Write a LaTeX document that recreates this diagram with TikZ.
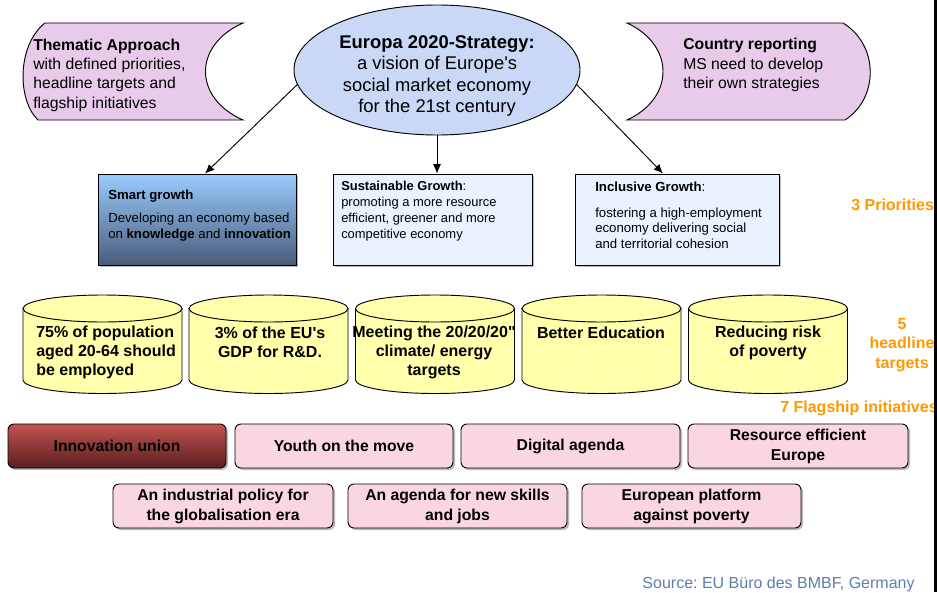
\documentclass[tikz,border=0pt]{standalone}
\usepackage{fontspec}
\setmainfont{Liberation Sans}[Ligatures=TeXOff]
\frenchspacing
\usetikzlibrary{arrows.meta,shapes.geometric,shadows,calc}
\definecolor{bannerc}{RGB}{232,202,234}
\definecolor{ellc}{RGB}{200,216,246}
\definecolor{boxc}{RGB}{234,242,255}
\definecolor{cylc}{RGB}{255,255,172}
\definecolor{flagc}{RGB}{250,214,228}
\definecolor{orangec}{RGB}{255,153,0}
\definecolor{srcc}{RGB}{95,125,175}
\tikzset{
  outline/.style={draw=black,line width=0.7pt},
  banner/.style={outline,fill=bannerc},
  cyl/.style={outline,fill=cylc},
  shad/.style={drop shadow={shadow xshift=1.5pt,shadow yshift=-1.5pt,fill=black!45,opacity=0.6}},
  prio/.style={outline,shad,minimum height=68.25pt,inner sep=0pt},
  flag/.style={outline,shad,rounded corners=4.5pt,fill=flagc,minimum height=33pt,inner sep=0pt,
    font=\fontsize{11.8}{15}\selectfont\bfseries,align=center},
  conn/.style={draw=black,line width=0.7pt,-{Latex[length=7pt,width=6pt]}},
  txt/.style={inner sep=0pt,align=left,anchor=west},
  orange/.style={inner sep=0pt,text=orangec,font=\fontsize{12}{14.6}\selectfont\bfseries},
  cyltxt/.style={inner sep=0pt,font=\fontsize{12}{14.3}\selectfont\bfseries},
}
\begin{document}
\begin{tikzpicture}[x=0.75pt,y=-0.75pt]
\useasboundingbox (0,0) rectangle (937,592);
\fill[white] (0,0) rectangle (937,592);

% banners
\draw[banner] (45,23) -- (243,23) .. controls (193,45) and (193,98) .. (243,120)
  -- (38,120) .. controls (17,100) and (17,45) .. (45,23) -- cycle;
\node[txt,font=\fontsize{11.8}{14.5}\selectfont] (thematic) at (33,75)
  {\textbf{Thematic Approach}\\with defined priorities,\\headline targets and\\flagship initiatives};
\draw[banner] (627,23) -- (843,23) .. controls (879,45) and (879,98) .. (845,120)
  -- (627,120) .. controls (675,98) and (675,45) .. (627,23) -- cycle;
\node[txt,font=\fontsize{11.8}{14.5}\selectfont] (country) at (683,65)
  {\textbf{Country reporting}\\MS need to develop\\their own strategies};

% central ellipse
\node[ellipse,outline,fill=ellc,minimum width=214.5pt,minimum height=97.5pt,inner sep=0pt] (E) at (437,70) {};
\node[inner sep=0pt,align=center,font=\fontsize{13.8}{16.1}\selectfont] (Etxt) at (437,76)
  {\textbf{Europa 2020-Strategy:}\\a vision of Europe's\\social market economy\\for the 21st century};

% priorities
\node[prio,minimum width=148.5pt,top color={rgb,255:red,153;green,204;blue,255},bottom color={rgb,255:red,74;green,92;blue,122}] (smart) at (197,219.5) {};
\node[prio,minimum width=149.25pt,fill=boxc] (sust) at (432.5,219.5) {};
\node[prio,minimum width=153pt,fill=boxc] (incl) at (677,219.5) {};

\node[txt,font=\fontsize{9.9}{12}\selectfont\bfseries] (smartT) at (108,196) {Smart growth};
\node[txt,font=\fontsize{9.9}{12}\selectfont] (smartB) at (108,227)
  {Developing an economy based\\on \textbf{knowledge} and \textbf{innovation}};
\node[txt,font=\fontsize{9.7}{12}\selectfont] (sustT) at (341,211)
  {\textbf{Sustainable Growth}:\\promoting a more resource\\efficient, greener and more\\competitive economy};
\node[txt,font=\fontsize{9.9}{12}\selectfont] (inclT) at (595,187) {\textbf{Inclusive Growth}:};
\node[txt,font=\fontsize{9.9}{11.6}\selectfont] (inclB) at (595,228)
  {fostering a high-employment\\economy delivering social\\and territorial cohesion};

% arrows
\draw[conn] (E.186) -- ($(smart.north)+(8,0)$);
\draw[conn] (E.south) -- (E.south |- sust.north);
\draw[conn] (E.354) -- ($(incl.north)+(-14,0)$);

% orange labels
\node[orange,anchor=west] (prioL) at (851,205) {3 Priorities};
\node[orange,align=center] (headL) at (902,345) {5\\headline\\targets};
\node[orange,anchor=west] (flagL) at (780,408) {7 Flagship initiatives};

% cylinders
\foreach \c in {102.5,268.5,435,601.5,768}{
  \draw[cyl] (\c-79.5,308.5) -- (\c-79.5,380) arc[start angle=180,end angle=0,x radius=79.5,y radius=13.5]
    -- (\c+79.5,308.5) -- cycle;
  \draw[cyl] (\c,308.5) ellipse[x radius=79.5,y radius=13.5];
}
\node[cyltxt,align=left,anchor=west] (c1) at (36,352) {75\% of population\\aged 20-64 should\\be employed};
\node[cyltxt,align=center] (c2) at (270,342.5) {3\% of the EU's\\GDP for R\&D.};
\node[cyltxt,align=center] (c3) at (434,352) {Meeting the 20/20/20"\\climate/ energy\\targets};
\node[cyltxt,align=center] (c4) at (601,333) {Better Education};
\node[cyltxt,align=center] (c5) at (768,342.5) {Reducing risk\\of poverty};

% flagship initiatives
\node[flag,minimum width=163.5pt,fill=none,top color={rgb,255:red,194;green,84;blue,80},bottom color={rgb,255:red,90;green,30;blue,32}] (f1) at (117,446) {Innovation union};
\node[flag,minimum width=163.5pt] (f2) at (344,446) {Youth on the move};
\node[flag,minimum width=164.25pt] (f3) at (570.5,446) {Digital agenda};
\node[flag,minimum width=165pt] (f4) at (798,446) {Resource efficient\\Europe};
\node[flag,minimum width=165pt] (f5) at (223,506) {An industrial policy for\\the globalisation era};
\node[flag,minimum width=164.25pt] (f6) at (457.5,506) {An agenda for new skills\\and jobs};
\node[flag,minimum width=164.25pt] (f7) at (691.5,506) {European platform\\against poverty};

% source
\node[inner sep=0pt,anchor=base,text=srcc,font=\fontsize{12}{14}\selectfont] (src) at (778.5,588) {Source: EU Büro des BMBF, Germany};

% right black bar
\fill[black] (934,0) rectangle (937,592);
\end{tikzpicture}
\end{document}
